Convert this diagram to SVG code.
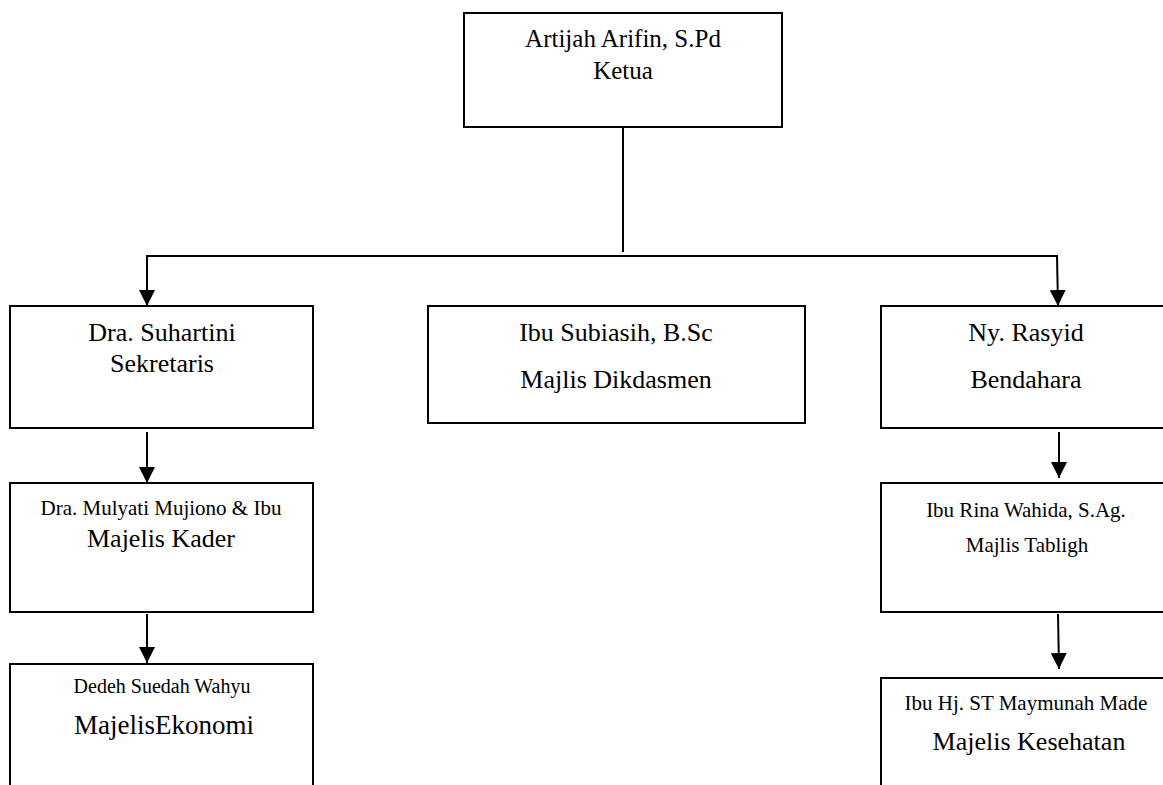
<svg xmlns="http://www.w3.org/2000/svg" width="1163" height="785" viewBox="0 0 1163 785">
<style>
.box{fill:#fff;stroke:#000;stroke-width:2}
.ln{fill:none;stroke:#000;stroke-width:2}
text{font-family:"Liberation Serif","Times New Roman",serif;fill:#000;text-anchor:middle}
.l{font-size:26px}
.t{font-size:25px}
.s{font-size:21px}
.xs{font-size:20px}
.xl{font-size:27px}
</style>
<defs>
<marker id="ah" markerWidth="16" markerHeight="16" refX="16" refY="8" orient="auto" markerUnits="userSpaceOnUse">
<path d="M0,0 L16,8 L0,16 Z" fill="#000"/>
</marker>
</defs>
<rect width="1163" height="785" fill="#fff"/>
<g id="connectors">
<line class="ln" x1="623" y1="128" x2="623" y2="252"/>
<line class="ln" x1="146" y1="256" x2="1058" y2="256"/>
<line class="ln" x1="147" y1="256" x2="147" y2="306" marker-end="url(#ah)"/>
<line class="ln" x1="1057" y1="256" x2="1058" y2="306" marker-end="url(#ah)"/>
<line class="ln" x1="147" y1="432" x2="147" y2="483" marker-end="url(#ah)"/>
<line class="ln" x1="147" y1="614" x2="147" y2="663" marker-end="url(#ah)"/>
<line class="ln" x1="1059" y1="432" x2="1059" y2="478" marker-end="url(#ah)"/>
<line class="ln" x1="1058" y1="614" x2="1059" y2="669" marker-end="url(#ah)"/>
</g>
<g id="ketua">
<rect class="box" x="464" y="13" width="318" height="114"/>
<text class="t" x="623" y="47">Artijah Arifin, S.Pd</text>
<text class="t" x="623" y="79">Ketua</text>
</g>
<g id="sekretaris">
<rect class="box" x="10" y="306" width="303" height="122"/>
<text class="l" x="162" y="341">Dra. Suhartini</text>
<text class="l" x="162" y="372">Sekretaris</text>
</g>
<g id="dikdasmen">
<rect class="box" x="428" y="306" width="377" height="117"/>
<text class="l" x="616" y="341">Ibu Subiasih, B.Sc</text>
<text class="l" x="616" y="388">Majlis Dikdasmen</text>
</g>
<g id="bendahara">
<rect class="box" x="881" y="306" width="300" height="122"/>
<text class="l" x="1026" y="341">Ny. Rasyid</text>
<text class="l" x="1026" y="388">Bendahara</text>
</g>
<g id="kader">
<rect class="box" x="10" y="483" width="303" height="129"/>
<text class="s" x="161" y="515">Dra. Mulyati Mujiono &amp; Ibu</text>
<text class="l" x="161" y="547">Majelis Kader</text>
</g>
<g id="tabligh">
<rect class="box" x="881" y="483" width="300" height="129"/>
<text class="s" x="1026" y="517">Ibu Rina Wahida, S.Ag.</text>
<text class="s" x="1027" y="552">Majlis Tabligh</text>
</g>
<g id="ekonomi">
<rect class="box" x="10" y="664" width="303" height="140"/>
<text class="xs" x="162" y="693">Dedeh Suedah Wahyu</text>
<text class="xl" x="164" y="734">MajelisEkonomi</text>
</g>
<g id="kesehatan">
<rect class="box" x="881" y="678" width="300" height="130"/>
<text class="s" x="1026" y="710">Ibu Hj. ST Maymunah Made</text>
<text class="l" x="1029" y="750">Majelis Kesehatan</text>
</g>
</svg>
